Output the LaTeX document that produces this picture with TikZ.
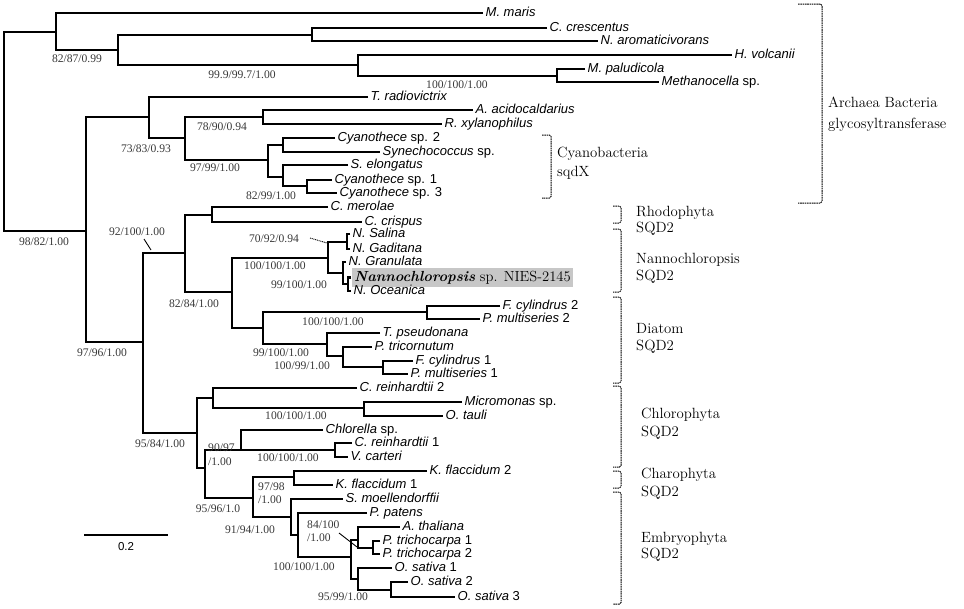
\documentclass[tikz,border=0pt]{standalone}
\usepackage{fontspec}
\newfontfamily\taxfont{Liberation Sans}
\newfontfamily\bootfont{Liberation Serif}
\newcommand\tipnode[4]{\coordinate (#1) at (#2,#3);\node[tax] (#1t) at ([xshift=2.5pt]#1) {#4};}
\begin{document}
\begin{tikzpicture}[x=1pt,y=-1pt,
 br/.style={line width=2.4pt, line join=miter},
 tax/.style={anchor=west, inner sep=0pt, text height=9pt, text depth=2.6pt, font=\taxfont\fontsize{13}{14}\selectfont},
 boot/.style={inner sep=0pt, text=black!78, font=\bootfont\fontsize{11.6}{12}\selectfont},
 bootl/.style={boot, anchor=west},
 grp/.style={anchor=base west, inner sep=0pt, font=\fontsize{14.8}{18}\selectfont},
 brk/.style={line width=1pt, dash pattern=on 1.6pt off 0.7pt, rounded corners=1.5pt},
 lead/.style={line width=0.9pt}
]
\useasboundingbox (0,0) rectangle (964,608);
% ---- leaves
\tipnode{mmaris}{483}{13}{\itshape M. maris}
\tipnode{ccres}{547}{28}{\itshape C. crescentus}
\tipnode{naro}{598}{41}{\itshape N. aromaticivorans}
\tipnode{hvol}{732}{55}{\itshape H. volcanii}
\tipnode{mpal}{585}{69}{\itshape M. paludicola}
\tipnode{meth}{659}{82}{{\itshape Methanocella} sp.}
\tipnode{trad}{368}{97}{\itshape T. radiovictrix}
\tipnode{aaci}{473}{110}{\itshape A. acidocaldarius}
\tipnode{rxyl}{442}{124}{\itshape R. xylanophilus}
\tipnode{cy2}{335}{138}{{\itshape Cyanothece} sp. 2}
\tipnode{syn}{380}{152}{{\itshape Synechococcus} sp.}
\tipnode{selo}{348}{165}{\itshape S. elongatus}
\tipnode{cy1}{332}{180}{{\itshape Cyanothece} sp. 1}
\tipnode{cy3}{337}{193}{{\itshape Cyanothece} sp. 3}
\tipnode{cmer}{328}{207}{\itshape C. merolae}
\tipnode{ccri}{362}{222}{\itshape C. crispus}
\tipnode{nsal}{350}{234}{\itshape N. Salina}
\tipnode{ngad}{350}{249}{\itshape N. Gaditana}
\tipnode{ngra}{346}{262}{\itshape N. Granulata}
\coordinate (nnies) at (351,277.5);
\node[anchor=west, fill=black!22, inner xsep=2pt, inner ysep=0pt, minimum height=19pt, font=\fontsize{14.6}{16}\selectfont] (nniest) at (352,277.5) {\textbf{\textit{Nannochloropsis}}\ sp. NIES-2145};
\tipnode{noce}{351}{291}{\itshape N. Oceanica}
\tipnode{fcy2}{500}{306}{{\itshape F. cylindrus} 2}
\tipnode{pmu2}{480}{319}{{\itshape P. multiseries} 2}
\tipnode{tps}{380}{333}{\itshape T. pseudonana}
\tipnode{ptr}{372}{347}{\itshape P. tricornutum}
\tipnode{fcy1}{413}{361}{{\itshape F. cylindrus} 1}
\tipnode{pmu1}{408}{374}{{\itshape P. multiseries} 1}
\tipnode{cre2}{357}{388}{{\itshape C. reinhardtii} 2}
\tipnode{micr}{462}{402}{{\itshape Micromonas} sp.}
\tipnode{otau}{443}{416}{\itshape O. tauli}
\tipnode{chlo}{323}{430}{{\itshape Chlorella} sp.}
\tipnode{cre1}{352}{443}{{\itshape C. reinhardtii} 1}
\tipnode{vcar}{348}{457}{\itshape V. carteri}
\tipnode{kfl2}{427}{471}{{\itshape K. flaccidum} 2}
\tipnode{kfl1}{333}{485}{{\itshape K. flaccidum} 1}
\tipnode{smoe}{343}{499}{\itshape S. moellendorffii}
\tipnode{ppat}{367}{513}{\itshape P. patens}
\tipnode{atha}{400}{527}{\itshape A. thaliana}
\tipnode{ptra}{380}{541}{{\itshape P. trichocarpa} 1}
\tipnode{ptrb}{380}{554}{{\itshape P. trichocarpa} 2}
\tipnode{osa1}{392}{568}{{\itshape O. sativa} 1}
\tipnode{osa2}{408}{582}{{\itshape O. sativa} 2}
\tipnode{osa3}{455}{597}{{\itshape O. sativa} 3}
% ---- internal nodes
\coordinate (n312) at (312,35);   \draw[br] (ccres) -| (n312) |- (naro);
\coordinate (n557) at (557,76);   \draw[br] (mpal) -| (n557) |- (meth);
\coordinate (n358) at (358,65);   \draw[br] (hvol) -| (n358) |- (n557);
\coordinate (n118) at (118,50);   \draw[br] (n312) -| (n118) |- (n358);
\coordinate (n56) at (56,32);     \draw[br] (mmaris) -| (n56) |- (n118);
\coordinate (n263) at (263,117);  \draw[br] (aaci) -| (n263) |- (rxyl);
\coordinate (n283a) at (283,145); \draw[br] (cy2) -| (n283a) |- (syn);
\coordinate (n307) at (307,186);  \draw[br] (cy1) -| (n307) |- (cy3);
\coordinate (n283b) at (283,177); \draw[br] (selo) -| (n283b) |- (n307);
\coordinate (n268) at (268,160);  \draw[br] (n283a) -| (n268) |- (n283b);
\coordinate (n185a) at (185,138); \draw[br] (n263) -| (n185a) |- (n268);
\coordinate (n149) at (149,117);  \draw[br] (trad) -| (n149) |- (n185a);
\coordinate (n212) at (212,215);  \draw[br] (cmer) -| (n212) |- (ccri);
\coordinate (n347) at (347,242);  \draw[br] (nsal) -| (n347) |- (ngad);
\coordinate (n348) at (348,284);  \draw[br] (nnies) -| (n348) |- (noce);
\coordinate (n343) at (343,273);  \draw[br] (ngra) -| (n343) |- (n348);
\coordinate (n328) at (328,258);  \draw[br] (n347) -| (n328) |- (n343);
\coordinate (n427) at (427,312);  \draw[br] (fcy2) -| (n427) |- (pmu2);
\coordinate (n383) at (383,367);  \draw[br] (fcy1) -| (n383) |- (pmu1);
\coordinate (n343b) at (343,356); \draw[br] (ptr) -| (n343b) |- (n383);
\coordinate (n327) at (327,344);  \draw[br] (tps) -| (n327) |- (n343b);
\coordinate (n263b) at (263,328); \draw[br] (n427) -| (n263b) |- (n327);
\coordinate (n232) at (232,292);  \draw[br] (n328) -| (n232) |- (n263b);
\coordinate (n185b) at (185,253); \draw[br] (n212) -| (n185b) |- (n232);
\coordinate (n364) at (364,408);  \draw[br] (micr) -| (n364) |- (otau);
\coordinate (n213) at (213,398);  \draw[br] (cre2) -| (n213) |- (n364);
\coordinate (n335) at (335,450);  \draw[br] (cre1) -| (n335) |- (vcar);
\coordinate (n241) at (241,450);  \draw[br] (chlo) -| (n241) |- (n335);
\coordinate (n294) at (294,477);  \draw[br] (kfl2) -| (n294) |- (kfl1);
\coordinate (n373) at (373,548);  \draw[br] (ptra) -| (n373) |- (ptrb);
\coordinate (n358a) at (358,540); \draw[br] (atha) -| (n358a) |- (n373);
\coordinate (n391) at (391,590);  \draw[br] (osa2) -| (n391) |- (osa3);
\coordinate (n358b) at (358,579); \draw[br] (osa1) -| (n358b) |- (n391);
\coordinate (n351) at (351,557);  \draw[br] (n358a) -| (n351) |- (n358b);
\coordinate (n298) at (298,535);  \draw[br] (ppat) -| (n298) |- (n351);
\coordinate (n291) at (291,517);  \draw[br] (smoe) -| (n291) |- (n298);
\coordinate (n253) at (253,498);  \draw[br] (n294) -| (n253) |- (n291);
\coordinate (n205) at (205,468);  \draw[br] (n241) -| (n205) |- (n253);
\coordinate (n197) at (197,433);  \draw[br] (n213) -| (n197) |- (n205);
\coordinate (n143) at (143,342);  \draw[br] (n185b) -| (n143) |- (n197);
\coordinate (n86) at (86,231);    \draw[br] (n149) -| (n86) |- (n143);
\coordinate (root) at (4,130);    \draw[br] (n56) -| (root) |- (n86);
% ---- support values
\node[boot] (b1) at (77,59) {82/87/0.99};
\node[boot] (b2) at (242,75) {99.9/99.7/1.00};
\node[boot] (b3) at (457,85) {100/100/1.00};
\node[boot] (b4) at (146,149) {73/83/0.93};
\node[boot] (b5) at (222,127) {78/90/0.94};
\node[boot] (b6) at (215,168) {97/99/1.00};
\node[boot] (b7) at (271,196) {82/99/1.00};
\node[boot] (b8) at (44,242) {98/82/1.00};
\node[boot] (b9) at (137,232) {92/100/1.00};
\node[boot] (b10) at (274,239) {70/92/0.94};
\node[boot] (b11) at (275,266) {100/100/1.00};
\node[boot] (b12) at (299,285) {99/100/1.00};
\node[boot] (b13) at (194,304) {82/84/1.00};
\node[boot] (b14) at (333,322) {100/100/1.00};
\node[boot] (b15) at (281,353) {99/100/1.00};
\node[boot] (b16) at (302,366) {100/99/1.00};
\node[boot] (b17) at (102,353) {97/96/1.00};
\node[boot] (b18) at (160,444) {95/84/1.00};
\node[boot] (b19) at (296,416) {100/100/1.00};
\node[bootl] (b20) at (208,448) {90/97};
\node[bootl] (b20b) at (208,462) {/1.00};
\node[boot] (b21) at (288,458) {100/100/1.00};
\node[bootl] (b22) at (258,487) {97/98};
\node[bootl] (b22b) at (258,500) {/1.00};
\node[boot] (b23) at (218,509) {95/96/1.0};
\node[boot] (b24) at (250,530) {91/94/1.00};
\node[bootl] (b25) at (307,525) {84/100};
\node[bootl] (b25b) at (307,538) {/1.00};
\node[boot] (b26) at (304,567) {100/100/1.00};
\node[boot] (b27) at (343,597) {95/99/1.00};
% leaders
\coordinate (l9a) at (144,239); \coordinate (l9b) at (151,250);
\draw[lead] (l9a) -- (l9b);
\coordinate (l10a) at (310,238); \coordinate (l10b) at (327,243);
\draw[lead, dash pattern=on 1pt off 0.8pt] (l10a) -- (l10b);
\coordinate (l25a) at (339,533); \coordinate (l25b) at (357,547);
\draw[lead] (l25a) -- (l25b);
% ---- scale bar
\coordinate (sb1) at (84,535); \coordinate (sb2) at (168,535);
\draw[line width=2.2pt] (sb1) -- (sb2);
\node[font=\taxfont\fontsize{11.5}{12}\selectfont] (sbt) at (126,547) {0.2};
% ---- group brackets
\draw[brk] (798,4) -- (822,4) -- (822,203) -- (798,203);
\draw[brk] (542,135) -- (551,135) -- (551,198) -- (542,198);
\draw[brk] (613,206) -- (621,206) -- (621,223) -- (613,223);
\draw[brk] (613,229) -- (621,229) -- (621,292) -- (613,292);
\draw[brk] (613,297) -- (621,297) -- (621,383) -- (613,383);
\draw[brk] (613,386) -- (621,386) -- (621,467) -- (613,467);
\draw[brk] (613,471) -- (621,471) -- (621,488) -- (613,488);
\draw[brk] (613,492) -- (621,492) -- (621,604) -- (613,604);
% ---- group labels
\node[grp] (g1a) at (828,107) {Archaea Bacteria};
\node[grp] (g1b) at (828,128) {glycosyltransferase};
\node[grp] (g2a) at (557,157) {Cyanobacteria};
\node[grp] (g2b) at (557,176) {sqdX};
\node[grp] (g3a) at (636,216) {Rhodophyta};
\node[grp] (g3b) at (636,232) {SQD2};
\node[grp] (g4a) at (636,263) {Nannochloropsis};
\node[grp] (g4b) at (636,280) {SQD2};
\node[grp] (g5a) at (636,333) {Diatom};
\node[grp] (g5b) at (636,350) {SQD2};
\node[grp] (g6a) at (641,418) {Chlorophyta};
\node[grp] (g6b) at (641,436) {SQD2};
\node[grp] (g7a) at (641,478) {Charophyta};
\node[grp] (g7b) at (641,496) {SQD2};
\node[grp] (g8a) at (641,542) {Embryophyta};
\node[grp] (g8b) at (641,558) {SQD2};
\end{tikzpicture}
\end{document}
